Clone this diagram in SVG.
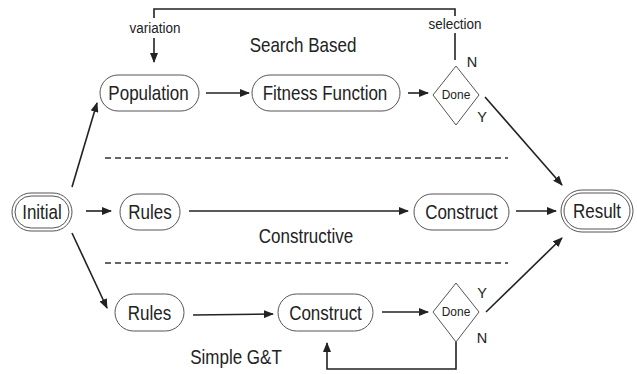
<svg xmlns="http://www.w3.org/2000/svg" width="637" height="374" viewBox="0 0 637 374">
<style>
text{font-family:"Liberation Sans",Arial,sans-serif;fill:#222}
.n{font-size:20px;text-anchor:middle;dominant-baseline:central}
.s{font-size:14.5px;text-anchor:middle;dominant-baseline:central}
.d{font-size:13px;text-anchor:middle;dominant-baseline:central}
.box{fill:#fff;stroke:#555;stroke-width:1}
.ln{fill:none;stroke:#222;stroke-width:1.6}
.a{marker-end:url(#ah)}
.dash{stroke:#333;stroke-width:1.3;stroke-dasharray:6,4}
</style>
<defs>
<marker id="ah" markerWidth="10" markerHeight="8" refX="9" refY="4" orient="auto" markerUnits="userSpaceOnUse">
<path d="M0,0 L10,4 L0,8 z" fill="#222"/>
</marker>
</defs>
<g id="connectors">
<path class="ln a" d="M154,38 V62"/>
<path class="ln" d="M154,18 V9 H455 V16"/>
<path class="ln" d="M455,33 V60"/>
<path class="ln a" d="M206,93 H249"/>
<path class="ln a" d="M408,93 H428"/>
<path class="ln a" d="M485,97 L562,185"/>
<path class="ln a" d="M72,187 L97,103"/>
<path class="ln a" d="M86,211 H111"/>
<path class="ln a" d="M72,233 L107,308"/>
<path class="ln a" d="M189,211 H408"/>
<path class="ln a" d="M516,211 H556"/>
<path class="ln a" d="M193,315 L273,314"/>
<path class="ln a" d="M382,312 H428"/>
<path class="ln a" d="M486,312 L562,238"/>
<path class="ln a" d="M456,342 V369 H327 V343"/>
<line class="dash" x1="105" y1="158" x2="508" y2="158"/>
<line class="dash" x1="105" y1="263" x2="508" y2="263"/>
</g>
<g id="variation"><text class="s" transform="translate(155,28) scale(0.93,1)">variation</text></g>
<g id="selection"><text class="s" transform="translate(455,24) scale(0.93,1)">selection</text></g>
<g id="searchbased"><text class="n" transform="translate(303,45) scale(0.85,1)">Search Based</text></g>
<g id="population"><rect class="box" x="100" y="75" width="99" height="36" rx="18"/><text class="n" transform="translate(148.5,93) scale(0.85,1)">Population</text></g>
<g id="fitness"><rect class="box" x="252" y="75" width="148" height="36" rx="18"/><text class="n" transform="translate(325,93) scale(0.85,1)">Fitness Function</text></g>
<g id="done1"><polygon class="box" points="456,66 479,95 456,125 433,95"/><text class="d" transform="translate(456,95) scale(0.92,1)">Done</text><text class="s" x="472" y="62">N</text><text class="s" x="482" y="117">Y</text></g>
<g id="initial"><rect class="box" x="12" y="193" width="60" height="38" rx="19"/><rect class="box" x="15" y="196" width="54" height="32" rx="16"/><text class="n" transform="translate(42,212) scale(0.85,1)">Initial</text></g>
<g id="rules1"><rect class="box" x="120" y="194" width="60" height="36" rx="18"/><text class="n" transform="translate(150,212) scale(0.85,1)">Rules</text></g>
<g id="construct1"><rect class="box" x="414" y="194" width="95" height="36" rx="18"/><text class="n" transform="translate(461.5,212) scale(0.85,1)">Construct</text></g>
<g id="constructive"><text class="n" transform="translate(306,236) scale(0.85,1)">Constructive</text></g>
<g id="result"><rect class="box" x="561" y="190" width="72" height="42" rx="21"/><rect class="box" x="564" y="193" width="66" height="36" rx="18"/><text class="n" transform="translate(597,211) scale(0.85,1)">Result</text></g>
<g id="rules2"><rect class="box" x="115" y="294" width="69" height="37" rx="18.5"/><text class="n" transform="translate(149.5,312.5) scale(0.85,1)">Rules</text></g>
<g id="construct2"><rect class="box" x="278" y="294" width="95" height="37" rx="18.5"/><text class="n" transform="translate(325.5,312.5) scale(0.85,1)">Construct</text></g>
<g id="done2"><polygon class="box" points="456,283 479,312 456,342 433,312"/><text class="d" transform="translate(456,312) scale(0.92,1)">Done</text><text class="s" x="482" y="293">Y</text><text class="s" x="482" y="338">N</text></g>
<g id="simplegt"><text class="n" transform="translate(236,357) scale(0.85,1)">Simple G&amp;T</text></g>
</svg>
